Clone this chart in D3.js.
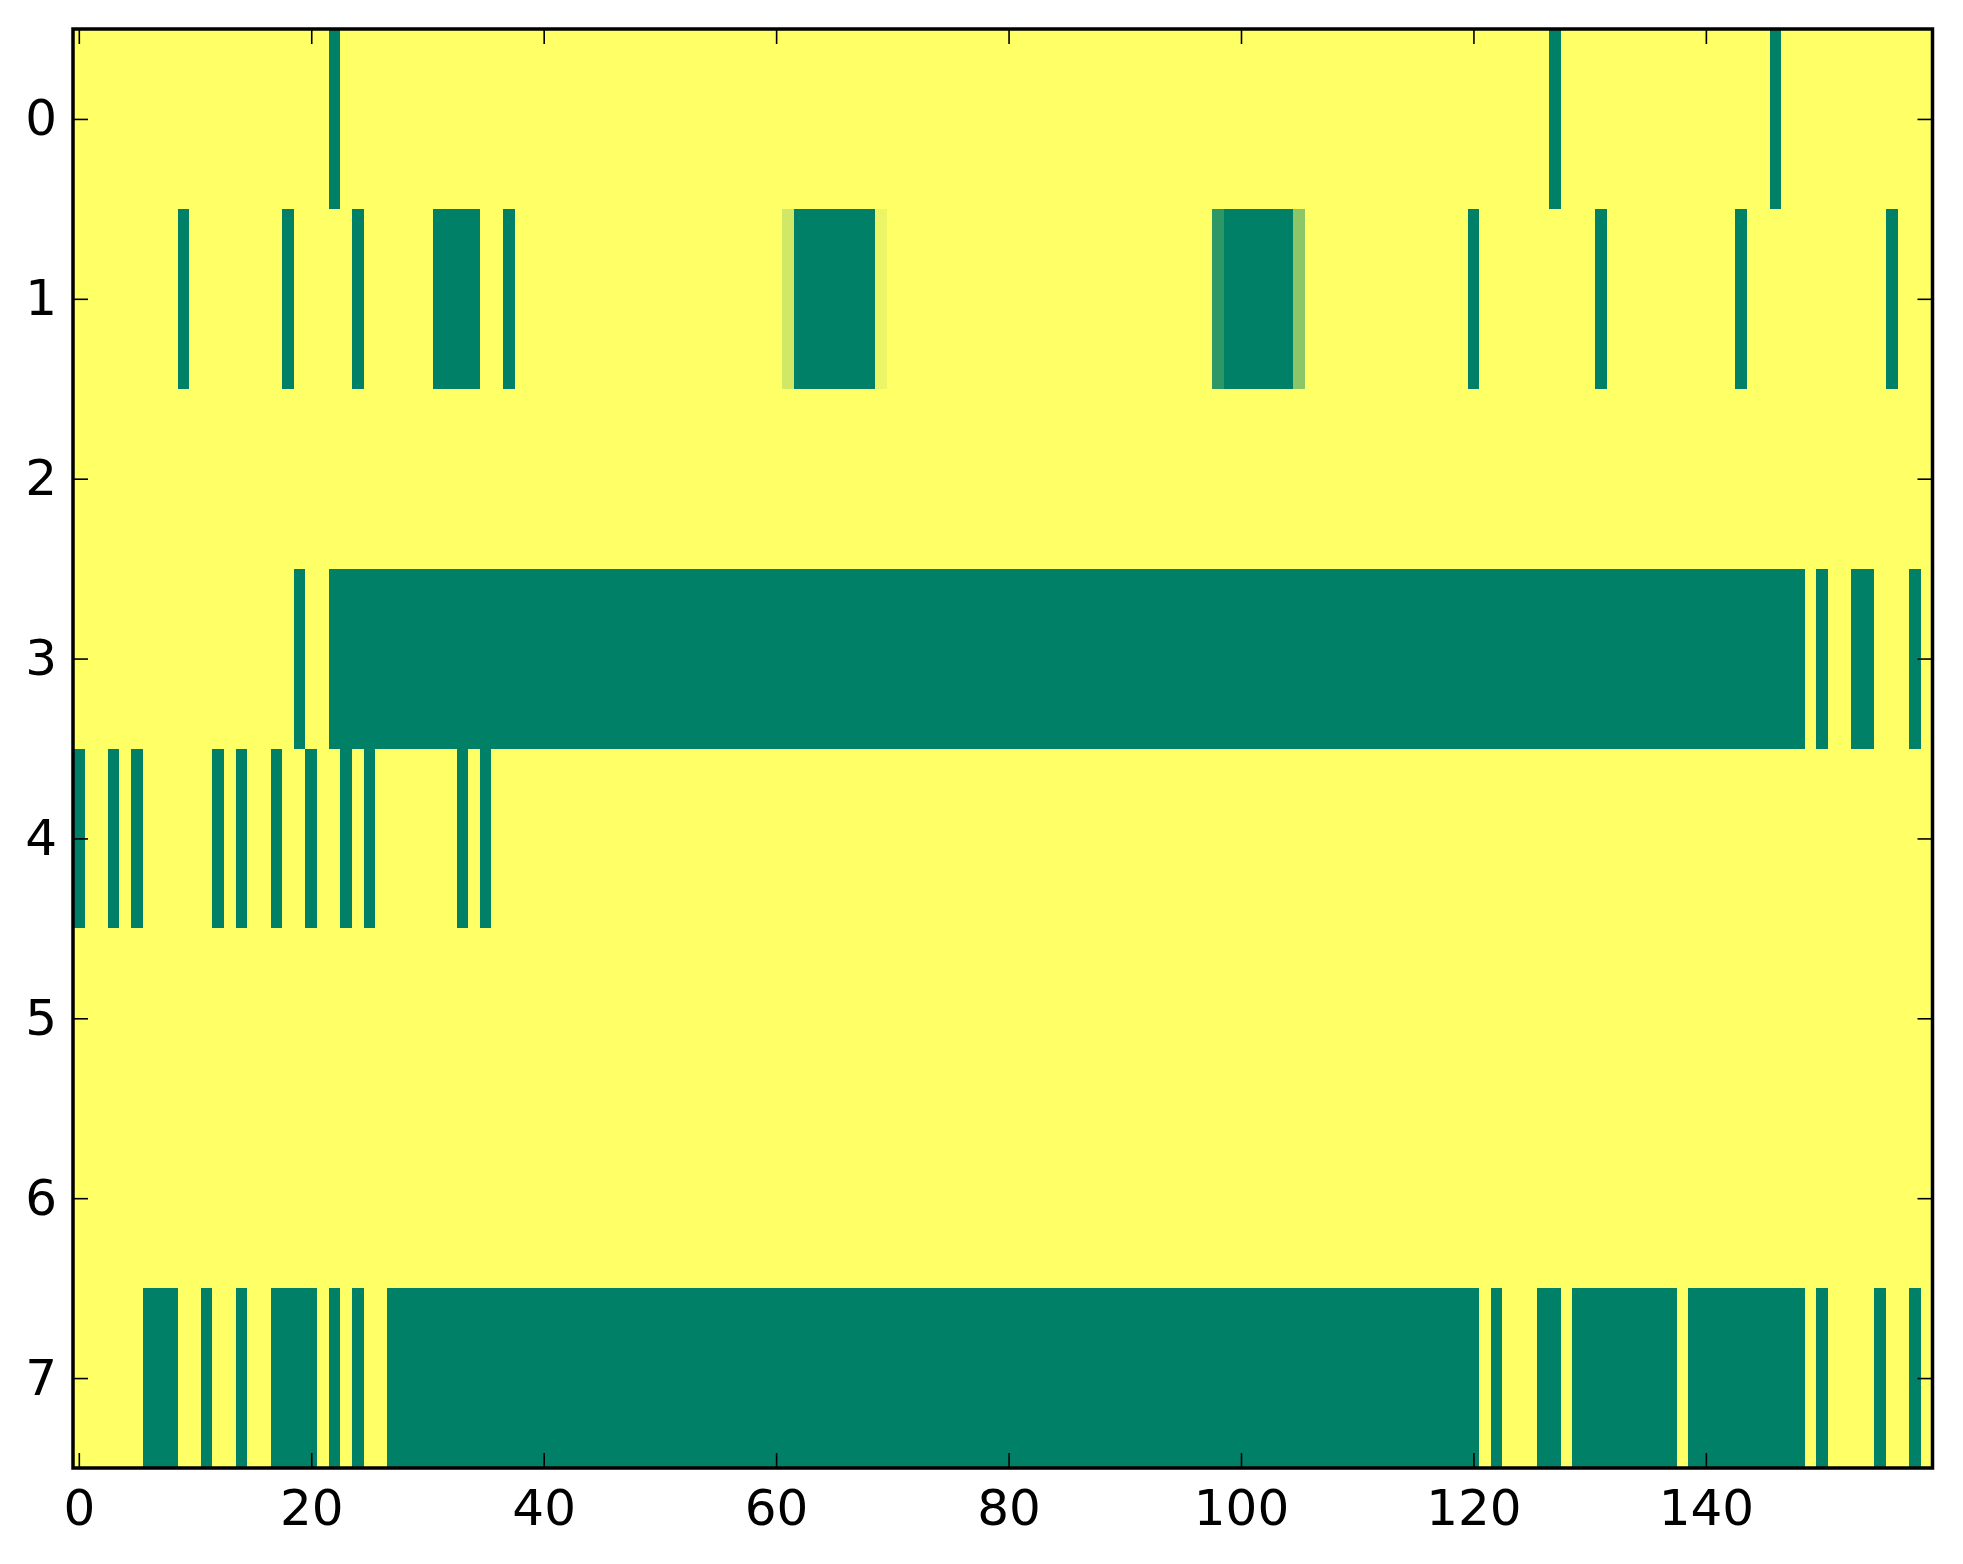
<!DOCTYPE html>
<html>
<head>
<meta charset="utf-8">
<script src="https://cdn.jsdelivr.net/npm/d3@7"></script>
<style>
  body { margin: 0; background: #fff; }
  svg text { font-family: "DejaVu Sans", sans-serif; }
</style>
</head>
<body>
<div id="chart"></div>
<script>
// one array per image row, 160 columns each (0 = green end, 1 = yellow end of the "summer" map)
const row0 = [
  1,1,1,1,1,1,1,1,1,1,1,1,1,1,1,1,1,1,1,1,
  1,1,0,1,1,1,1,1,1,1,1,1,1,1,1,1,1,1,1,1,
  1,1,1,1,1,1,1,1,1,1,1,1,1,1,1,1,1,1,1,1,
  1,1,1,1,1,1,1,1,1,1,1,1,1,1,1,1,1,1,1,1,
  1,1,1,1,1,1,1,1,1,1,1,1,1,1,1,1,1,1,1,1,
  1,1,1,1,1,1,1,1,1,1,1,1,1,1,1,1,1,1,1,1,
  1,1,1,1,1,1,1,0,1,1,1,1,1,1,1,1,1,1,1,1,
  1,1,1,1,1,1,0,1,1,1,1,1,1,1,1,1,1,1,1,1
];
const row1 = [
  1,1,1,1,1,1,1,1,1,0,1,1,1,1,1,1,1,1,0,1,
  1,1,1,1,0,1,1,1,1,1,1,0,0,0,0,1,1,0,1,1,
  1,1,1,1,1,1,1,1,1,1,1,1,1,1,1,1,1,1,1,1,
  1,0.82,0,0,0,0,0,0,0,0.92,1,1,1,1,1,1,1,1,1,1,
  1,1,1,1,1,1,1,1,1,1,1,1,1,1,1,1,1,1,0.18,0,
  0,0,0,0,0,0.55,1,1,1,1,1,1,1,1,1,1,1,1,1,1,
  0,1,1,1,1,1,1,1,1,1,1,0,1,1,1,1,1,1,1,1,
  1,1,1,0,1,1,1,1,1,1,1,1,1,1,1,1,0,1,1,1
];
const row2 = [
  1,1,1,1,1,1,1,1,1,1,1,1,1,1,1,1,1,1,1,1,
  1,1,1,1,1,1,1,1,1,1,1,1,1,1,1,1,1,1,1,1,
  1,1,1,1,1,1,1,1,1,1,1,1,1,1,1,1,1,1,1,1,
  1,1,1,1,1,1,1,1,1,1,1,1,1,1,1,1,1,1,1,1,
  1,1,1,1,1,1,1,1,1,1,1,1,1,1,1,1,1,1,1,1,
  1,1,1,1,1,1,1,1,1,1,1,1,1,1,1,1,1,1,1,1,
  1,1,1,1,1,1,1,1,1,1,1,1,1,1,1,1,1,1,1,1,
  1,1,1,1,1,1,1,1,1,1,1,1,1,1,1,1,1,1,1,1
];
const row3 = [
  1,1,1,1,1,1,1,1,1,1,1,1,1,1,1,1,1,1,1,0,
  1,1,0,0,0,0,0,0,0,0,0,0,0,0,0,0,0,0,0,0,
  0,0,0,0,0,0,0,0,0,0,0,0,0,0,0,0,0,0,0,0,
  0,0,0,0,0,0,0,0,0,0,0,0,0,0,0,0,0,0,0,0,
  0,0,0,0,0,0,0,0,0,0,0,0,0,0,0,0,0,0,0,0,
  0,0,0,0,0,0,0,0,0,0,0,0,0,0,0,0,0,0,0,0,
  0,0,0,0,0,0,0,0,0,0,0,0,0,0,0,0,0,0,0,0,
  0,0,0,0,0,0,0,0,0,1,0,1,1,0,0,1,1,1,0,1
];
const row4 = [
  0,1,1,0,1,0,1,1,1,1,1,1,0,1,0,1,1,0,1,1,
  0,1,1,0,1,0,1,1,1,1,1,1,1,0,1,0,1,1,1,1,
  1,1,1,1,1,1,1,1,1,1,1,1,1,1,1,1,1,1,1,1,
  1,1,1,1,1,1,1,1,1,1,1,1,1,1,1,1,1,1,1,1,
  1,1,1,1,1,1,1,1,1,1,1,1,1,1,1,1,1,1,1,1,
  1,1,1,1,1,1,1,1,1,1,1,1,1,1,1,1,1,1,1,1,
  1,1,1,1,1,1,1,1,1,1,1,1,1,1,1,1,1,1,1,1,
  1,1,1,1,1,1,1,1,1,1,1,1,1,1,1,1,1,1,1,1
];
const row5 = row2.slice();
const row6 = row2.slice();
const row7 = [
  1,1,1,1,1,1,0,0,0,1,1,0,1,1,0,1,1,0,0,0,
  0,1,0,1,0,1,1,0,0,0,0,0,0,0,0,0,0,0,0,0,
  0,0,0,0,0,0,0,0,0,0,0,0,0,0,0,0,0,0,0,0,
  0,0,0,0,0,0,0,0,0,0,0,0,0,0,0,0,0,0,0,0,
  0,0,0,0,0,0,0,0,0,0,0,0,0,0,0,0,0,0,0,0,
  0,0,0,0,0,0,0,0,0,0,0,0,0,0,0,0,0,0,0,0,
  0,1,0,1,1,1,0,0,1,0,0,0,0,0,0,0,0,0,1,0,
  0,0,0,0,0,0,0,0,0,1,0,1,1,1,1,0,1,1,0,1
];
const rows = [row0, row1, row2, row3, row4, row5, row6, row7];

const xTicks = [0, 20, 40, 60, 80, 100, 120, 140];
const yTicks = [0, 1, 2, 3, 4, 5, 6, 7];

const width = 1963, height = 1564;
const plot = { left: 73, right: 1932.5, top: 29, bottom: 1468 };
const nCols = row0.length;

const svg = d3.select('#chart').append('svg')
    .attr('width', width)
    .attr('height', height);

const x = d3.scaleLinear().domain([-0.5, nCols - 0.5]).range([plot.left, plot.right]);
const y = d3.scaleLinear().domain([-0.5, rows.length - 0.5]).range([plot.top, plot.bottom]);

// matplotlib "summer": r = v, g = 0.5 + v/2, b = 0.4
const color = d3.scaleLinear()
    .domain([0, 1])
    .range(['rgb(0,128,102)', 'rgb(255,255,102)'])
    .interpolate(d3.interpolateRgb);

const cells = [];
rows.forEach((r, ri) => r.forEach((v, ci) => cells.push({ ri, ci, v })));

svg.append('g')
    .selectAll('rect')
    .data(cells)
    .join('rect')
    .attr('x', d => x(d.ci - 0.5))
    .attr('y', d => y(d.ri - 0.5))
    .attr('width', d => x(d.ci + 0.5) - x(d.ci - 0.5) + 0.3)
    .attr('height', d => y(d.ri + 0.5) - y(d.ri - 0.5) + 0.3)
    .attr('shape-rendering', 'crispEdges')
    .attr('fill', d => color(d.v));

const tickLen = 15;

function styleAxis(g, showLabels) {
    g.select('.domain').remove();
    g.selectAll('.tick line').attr('stroke', '#000').attr('stroke-width', 1.6);
    g.selectAll('.tick text')
        .attr('fill', '#000')
        .style('font-size', '50px')
        .style('display', showLabels ? null : 'none');
}

svg.append('g')
    .attr('transform', `translate(0,${plot.bottom})`)
    .call(d3.axisBottom(x).tickValues(xTicks).tickSizeInner(-tickLen).tickSizeOuter(0).tickPadding(21))
    .call(g => styleAxis(g, true));

svg.append('g')
    .attr('transform', `translate(0,${plot.top})`)
    .call(d3.axisTop(x).tickValues(xTicks).tickSizeInner(-tickLen).tickSizeOuter(0))
    .call(g => styleAxis(g, false));

svg.append('g')
    .attr('transform', `translate(${plot.left},0)`)
    .call(d3.axisLeft(y).tickValues(yTicks).tickSizeInner(-tickLen).tickSizeOuter(0).tickPadding(16))
    .call(g => styleAxis(g, true));

svg.append('g')
    .attr('transform', `translate(${plot.right},0)`)
    .call(d3.axisRight(y).tickValues(yTicks).tickSizeInner(-tickLen).tickSizeOuter(0))
    .call(g => styleAxis(g, false));

// frame
svg.append('rect')
    .attr('x', plot.left)
    .attr('y', plot.top)
    .attr('width', plot.right - plot.left)
    .attr('height', plot.bottom - plot.top)
    .attr('fill', 'none')
    .attr('stroke', '#000')
    .attr('stroke-width', 3.5);
</script>
</body>
</html>
